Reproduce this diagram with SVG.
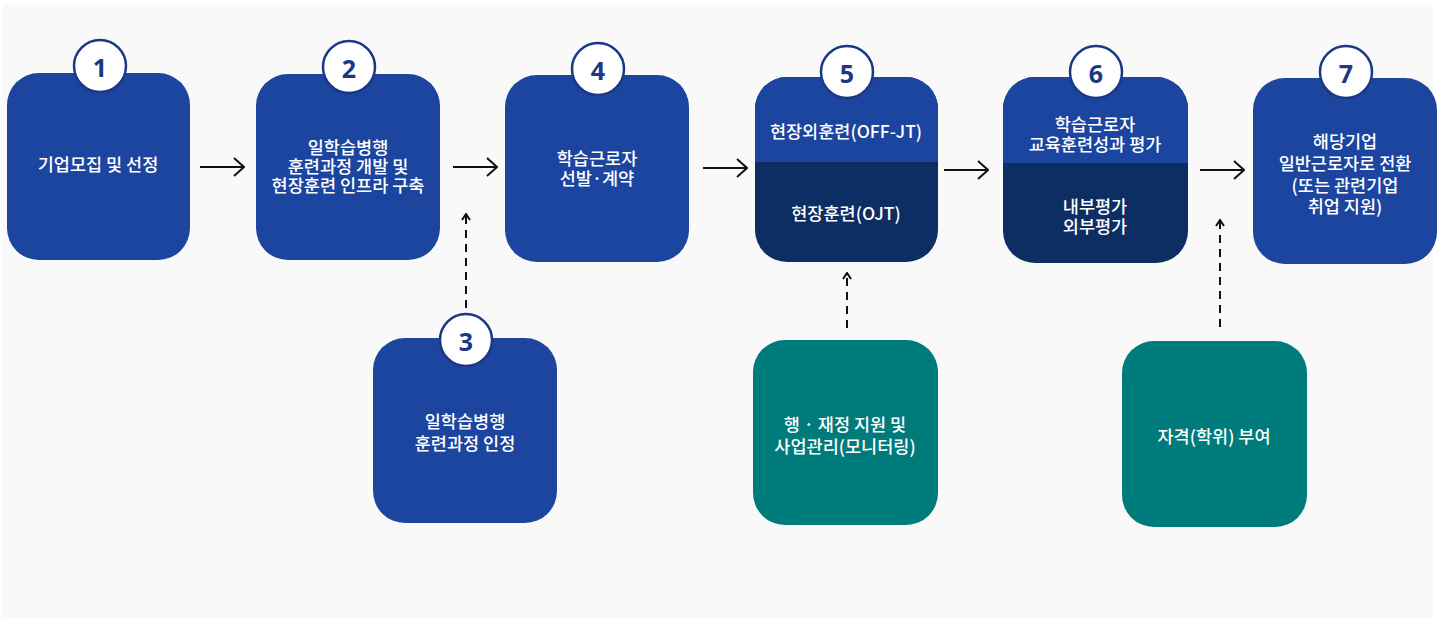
<svg xmlns="http://www.w3.org/2000/svg" width="1442" height="625" viewBox="0 0 1442 625">
<defs>
<style>
.blue{fill:#1c45a0}
.dark{fill:#0c2e63}
.teal{fill:#007b7b}
.t{font-family:"Noto Sans CJK KR","Noto Sans",sans-serif;font-size:17.5px;font-weight:500;fill:#ffffff;text-anchor:middle;dominant-baseline:central}
.c{fill:#ffffff;stroke:#1a3886;stroke-width:2.5}
.n{font-family:"Noto Sans","Liberation Sans",sans-serif;font-size:25px;font-weight:700;fill:#1a3886;text-anchor:middle;dominant-baseline:central}
.solid{stroke:#111111;stroke-width:2;fill:none}
.dash{stroke:#111111;stroke-width:2;fill:none;stroke-dasharray:8 6}
</style>
<marker id="arr" viewBox="0 0 12 20" markerWidth="12" markerHeight="20" markerUnits="userSpaceOnUse" refX="11" refY="10" orient="auto">
<path d="M1,1 L11,10 L1,19" fill="none" stroke="#111111" stroke-width="2"/>
</marker>
<marker id="arrs" viewBox="0 0 8 10" markerWidth="8" markerHeight="10" markerUnits="userSpaceOnUse" refX="7" refY="5" orient="auto">
<path d="M1,1 L7,5 L1,9" fill="none" stroke="#111111" stroke-width="2"/>
</marker>
</defs>
<rect x="0" y="0" width="1442" height="625" fill="#ffffff"/>
<rect x="3" y="4" width="1430" height="614" fill="#f9f9f9"/>

<g id="connectors">
<line class="solid" x1="200" y1="167" x2="244" y2="167" marker-end="url(#arr)"/>
<line class="solid" x1="453" y1="167" x2="497" y2="167" marker-end="url(#arr)"/>
<line class="solid" x1="703" y1="168" x2="747" y2="168" marker-end="url(#arr)"/>
<line class="solid" x1="944" y1="170" x2="988" y2="170" marker-end="url(#arr)"/>
<line class="solid" x1="1200" y1="170" x2="1244" y2="170" marker-end="url(#arr)"/>
<line class="dash" x1="466" y1="308" x2="466" y2="214" marker-end="url(#arrs)"/>
<line class="dash" x1="847" y1="328" x2="847" y2="273" marker-end="url(#arrs)"/>
<line class="dash" x1="1220" y1="327" x2="1220" y2="220" marker-end="url(#arrs)"/>
</g>

<g id="node1">
<rect class="blue" x="7" y="73" width="183" height="187" rx="32"/>
<text class="t" x="98" y="163">기업모집 및 선정</text>
<circle class="c" cx="100" cy="66" r="26"/>
<text class="n" x="100" y="67">1</text>
</g>

<g id="node2">
<rect class="blue" x="256" y="74" width="184" height="186" rx="32"/>
<text class="t" x="348" y="146">일학습병행</text>
<text class="t" x="348" y="165">훈련과정 개발 및</text>
<text class="t" x="348" y="184">현장훈련 인프라 구축</text>
<circle class="c" cx="349" cy="67" r="26"/>
<text class="n" x="349" y="68">2</text>
</g>

<g id="node3">
<rect class="blue" x="373" y="338" width="184" height="185" rx="32"/>
<text class="t" x="465" y="420">일학습병행</text>
<text class="t" x="465" y="442">훈련과정 인정</text>
<circle class="c" cx="466" cy="340" r="26"/>
<text class="n" x="466" y="341">3</text>
</g>

<g id="node4">
<rect class="blue" x="505" y="75" width="184" height="187" rx="32"/>
<text class="t" x="597" y="157">학습근로자</text>
<text class="t" x="597" y="177">선발·계약</text>
<circle class="c" cx="598" cy="69" r="26"/>
<text class="n" x="598" y="70">4</text>
</g>

<g id="node5">
<rect class="dark" x="755" y="77" width="183" height="185" rx="32"/>
<path class="blue" d="M755,162 V109 A32,32 0 0 1 787,77 H906 A32,32 0 0 1 938,109 V162 Z"/>
<text class="t" x="846" y="130">현장외훈련(OFF-JT)</text>
<text class="t" x="846" y="212">현장훈련(OJT)</text>
<circle class="c" cx="847" cy="72" r="26"/>
<text class="n" x="847" y="73">5</text>
</g>

<g id="node6">
<rect class="dark" x="1003" y="77" width="185" height="186" rx="32"/>
<path class="blue" d="M1003,163 V109 A32,32 0 0 1 1035,77 H1156 A32,32 0 0 1 1188,109 V163 Z"/>
<text class="t" x="1095" y="123">학습근로자</text>
<text class="t" x="1095" y="143">교육훈련성과 평가</text>
<text class="t" x="1095" y="205">내부평가</text>
<text class="t" x="1095" y="225">외부평가</text>
<circle class="c" cx="1096" cy="72" r="26"/>
<text class="n" x="1096" y="73">6</text>
</g>

<g id="node7">
<rect class="blue" x="1253" y="78" width="184" height="186" rx="32"/>
<text class="t" x="1345" y="140">해당기업</text>
<text class="t" x="1345" y="162">일반근로자로 전환</text>
<text class="t" x="1345" y="184">(또는 관련기업</text>
<text class="t" x="1345" y="205">취업 지원)</text>
<circle class="c" cx="1346" cy="72" r="26"/>
<text class="n" x="1346" y="73">7</text>
</g>

<g id="node8">
<rect class="teal" x="753" y="340" width="185" height="185" rx="32"/>
<text class="t" x="845" y="423">행 · 재정 지원 및</text>
<text class="t" x="845" y="445">사업관리(모니터링)</text>
</g>

<g id="node9">
<rect class="teal" x="1122" y="341" width="185" height="186" rx="32"/>
<text class="t" x="1214" y="435">자격(학위) 부여</text>
</g>
</svg>
